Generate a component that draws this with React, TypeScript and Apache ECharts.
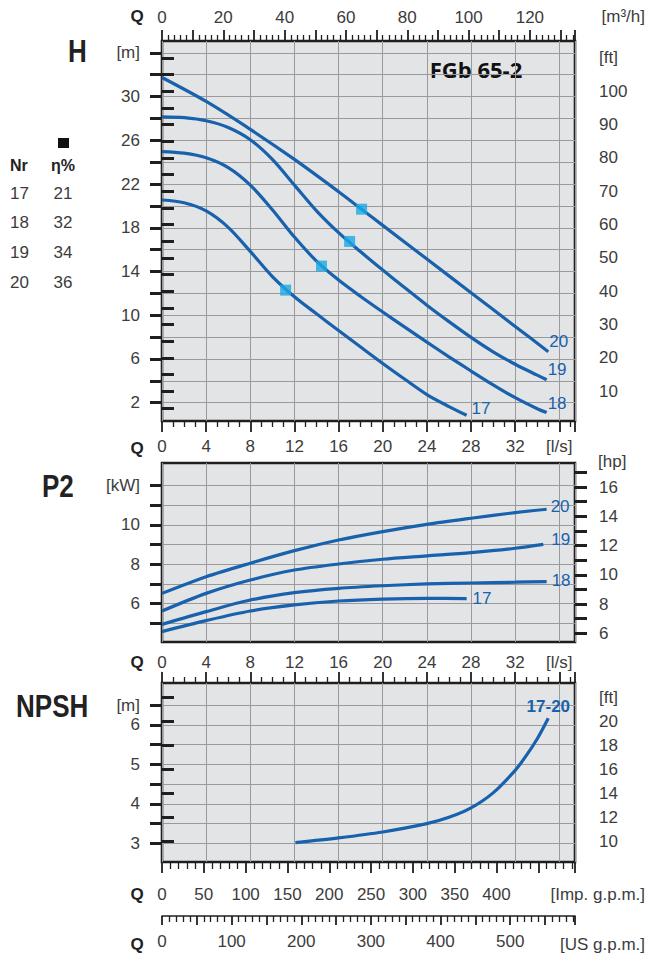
import React, { useEffect, useRef } from "react";
import * as echarts from "echarts";

// ---------------- data ----------------
// H [m] vs Q [l/s]
const qH20 = [0, 4, 8, 12, 16, 18.08, 20, 24, 28, 32, 35.0];
const h20 = [31.74, 29.55, 27.0, 24.25, 21.3, 19.7, 18.22, 15.14, 12.06, 8.98, 6.67];
const qH19 = [0, 2, 4, 6, 8, 10, 12, 14, 16, 18, 20, 22, 24, 26, 28, 30, 32, 34, 34.85];
const h19 = [28.15, 28.07, 27.79, 27.17, 26.05, 24.25, 21.9, 19.55, 17.55, 15.8, 14.13, 12.51, 10.92, 9.42, 7.98, 6.66, 5.52, 4.52, 4.1];
const qH18 = [0, 2, 4, 6, 8, 10, 12, 14, 16, 18, 20, 22, 24, 26, 28, 30, 32, 34, 34.85];
const h18 = [24.97, 24.82, 24.4, 23.5, 21.9, 19.65, 17.15, 14.95, 13.22, 11.72, 10.3, 8.91, 7.54, 6.2, 4.9, 3.64, 2.46, 1.45, 1.1];
const qH17 = [0, 2, 4, 6, 8, 10, 12, 14, 16, 18, 20, 22, 24, 26, 27.6];
const h17 = [20.54, 20.29, 19.54, 18.04, 15.84, 13.54, 11.69, 10.13, 8.61, 7.09, 5.59, 4.15, 2.75, 1.65, 0.85];

// best efficiency points (cyan squares)
const bepQ = [11.2, 14.45, 17.0, 18.08];
const bepH = [12.3, 14.5, 16.75, 19.7];

// P2 [kW] vs Q [l/s]
const qP = [0, 4, 8, 12, 16, 20, 24, 28, 32];
const p20 = [6.51, 7.36, 8.05, 8.69, 9.23, 9.66, 10.03, 10.34, 10.63];
const p20End = [34.85, 10.8];
const p19 = [5.61, 6.51, 7.19, 7.7, 8.01, 8.25, 8.42, 8.59, 8.81];
const p19End = [34.55, 9.01];
const p18 = [4.93, 5.58, 6.17, 6.55, 6.77, 6.9, 6.99, 7.04, 7.08];
const p18End = [34.85, 7.11];
const qP17 = [0, 4, 8, 12, 16, 20, 24, 27.6];
const p17 = [4.56, 5.12, 5.61, 5.92, 6.12, 6.22, 6.26, 6.24];

// NPSH [m] vs Q [l/s]
const qN = [12.09, 16, 20, 24, 26, 28, 30, 32, 33, 34, 35.0];
const npsh = [3.02, 3.14, 3.29, 3.5, 3.66, 3.9, 4.28, 4.85, 5.22, 5.65, 6.17];

// efficiency table
const tableNr = ["17", "18", "19", "20"];
const tableEta = ["21", "32", "34", "36"];

// curve names
const curveNames = ["17", "18", "19", "20"];

// axis extents & tick values
const X_MAX = 37.42; // l/s at right border
const H_MIN = 0.33, H_MAX = 35.08;
const P_MIN = 4.03, P_MAX = 13.16;
const N_MIN = 2.53, N_MAX = 7.06;
const M_TO_FT = 3.2808, KW_TO_HP = 1.341;
const LS_TO_M3H = 3.6, LS_TO_IMP = 13.198, LS_TO_US = 15.85;

const hLabelsM = [2, 6, 10, 14, 18, 22, 26, 30, 34];
const hLabelsFt = [10, 20, 30, 40, 50, 60, 70, 80, 90, 100, 110];
const pLabelsKw = [6, 8, 10, 12];
const pLabelsHp = [6, 8, 10, 12, 14, 16];
const nLabelsM = [3, 4, 5, 6, 6.5];
const nLabelsFt = [10, 12, 14, 16, 18, 20, 22];

// ---------------- helpers ----------------
const range = (a: number, b: number, s: number) => {
  const out: number[] = [];
  for (let v = a; v <= b + 1e-9; v += s) out.push(Math.round(v * 1000) / 1000);
  return out;
};
const pairs = (qs: number[], vs: number[]) => qs.map((q, i) => [q, vs[i]]);

const BLUE = "#1862ad";
const CYAN = "#1aa9e4";
const INK = "#1f1f1f";
const GRID_COLOR = "#9a9a9c";
const AXIS_FONT = {
  fontFamily: "'Liberation Sans', Arial, sans-serif",
  fontWeight: "normal" as any,
  fontSize: 17,
  color: "#3c3c3c",
};
const GL = 162, GW = 413;

const isMult = (v: number, m: number) => Math.abs(v / m - Math.round(v / m)) < 1e-6;

function xRuler(o: any) {
  return {
    type: "value",
    gridIndex: o.grid,
    position: o.pos,
    min: 0,
    max: o.max,
    interval: o.interval,
    axisLine: { show: !!o.line, onZero: false, lineStyle: { color: INK, width: 1.6 } },
    axisTick: {
      show: o.ticks !== false,
      length: o.majorLen ?? 11,
      lineStyle: { color: INK, width: 1.8 },
    },
    minorTick: {
      show: o.ticks !== false,
      splitNumber: o.minor,
      length: o.minorLen ?? 6,
      lineStyle: { color: INK, width: 1.3 },
    },
    axisLabel: {
      show: o.labels !== false,
      margin: o.margin,
      formatter: o.fmt,
      ...AXIS_FONT,
    },
    splitLine: { show: !!o.split, lineStyle: { color: GRID_COLOR, width: 1 } },
    minorSplitLine: { show: false },
  };
}

function yAxis(o: any) {
  const within = (arr: number[]) => arr.filter((v) => v >= o.min && v <= o.max);
  return {
    type: "value",
    gridIndex: o.grid,
    position: o.pos,
    min: o.min,
    max: o.max,
    axisLine: { show: false },
    axisTick: {
      show: true,
      length: 12,
      customValues: within(o.ticks),
      lineStyle: { color: INK, width: 3 },
    },
    axisLabel: {
      margin: o.margin,
      customValues: within(o.labels),
      formatter: o.fmt,
      ...AXIS_FONT,
    },
    splitLine: { show: !!o.split, lineStyle: { color: GRID_COLOR, width: 1 } },
  };
}

const lsFmt = (v: number) => {
  if (!isMult(v, 4)) return "";
  const r = Math.round(v);
  if (r === 36) return "[l/s]";
  return String(r);
};

const curveLabelFont = {
  color: BLUE,
  fontFamily: "'Liberation Sans', Arial, sans-serif",
  fontSize: 17,
};

function lineSeries(name: string, xi: number, yi: number, qs: number[], vs: number[], lbl: any) {
  return {
    type: "line",
    name,
    xAxisIndex: xi,
    yAxisIndex: yi,
    data: pairs(qs, vs),
    smooth: 0.3,
    showSymbol: false,
    lineStyle: { color: BLUE, width: 3.2 },
    endLabel: {
      show: true,
      formatter: lbl.text ?? name,
      ...curveLabelFont,
      fontWeight: lbl.bold ? "bold" : "normal",
      align: lbl.align ?? "left",
      verticalAlign: "bottom",
      distance: lbl.d,
      lineHeight: lbl.lh,
    },
  };
}

function buildOption() {
  const headFont = {
    fontFamily: "'Liberation Sans', Arial, sans-serif",
    fontWeight: "bold",
    fontSize: 31,
    fill: "#222",
  };
  const qFont = {
    fontFamily: "'Liberation Sans', Arial, sans-serif",
    fontWeight: "bold",
    fontSize: 17,
    fill: "#222",
  };
  const lightText = {
    fontFamily: AXIS_FONT.fontFamily,
    fontSize: 17,
    fill: "#3c3c3c",
  };
  const graphic: any[] = [
    { type: "text", x: 68, y: 51, scaleX: 0.84, style: { text: "H", ...headFont, verticalAlign: "middle" } },
    { type: "text", x: 42, y: 486, scaleX: 0.84, style: { text: "P2", ...headFont, verticalAlign: "middle" } },
    { type: "text", x: 16, y: 706, scaleX: 0.84, style: { text: "NPSH", ...headFont, verticalAlign: "middle" } },
    ...[16, 448, 662, 894, 944].map((y) => ({
      type: "text", x: 137, y, style: { text: "Q", ...qFont, align: "center", verticalAlign: "middle" },
    })),
    { type: "text", x: 645, y: 16, style: { text: "[m³/h]", ...lightText, align: "right", verticalAlign: "middle" } },
    { type: "text", x: 598, y: 461, style: { text: "[hp]", ...lightText, align: "left", verticalAlign: "middle" } },
    { type: "text", x: 645, y: 894, style: { text: "[Imp. g.p.m.]", ...lightText, align: "right", verticalAlign: "middle" } },
    { type: "text", x: 645, y: 944, style: { text: "[US g.p.m.]", ...lightText, align: "right", verticalAlign: "middle" } },
    {
      type: "text", x: 476, y: 69,
      style: { text: "FGb 65-2", fontFamily: "'Open Sans', 'Liberation Sans', sans-serif", fontWeight: "bold", fontSize: 22, fill: "#111", align: "center", verticalAlign: "middle" },
    },
    { type: "rect", shape: { x: 58, y: 138, width: 11, height: 10 }, style: { fill: "#111" } },
    { type: "text", x: 10, y: 165, style: { text: "Nr", ...qFont, fontSize: 16, align: "left", verticalAlign: "middle" } },
    { type: "text", x: 63, y: 165, style: { text: "η%", ...qFont, fontSize: 16, align: "center", verticalAlign: "middle" } },
    ...tableNr.map((t, i) => ({
      type: "text", x: 10, y: 193 + i * 29.8, style: { text: t, ...lightText, align: "left", verticalAlign: "middle" },
    })),
    ...tableEta.map((t, i) => ({
      type: "text", x: 63, y: 193 + i * 29.8, style: { text: t, ...lightText, align: "center", verticalAlign: "middle" },
    })),
  ];

  const gridBase = {
    show: true,
    left: GL,
    width: GW,
    borderColor: INK,
    borderWidth: 2.6,
    backgroundColor: "#e3e4e6",
    containLabel: false,
    outerBoundsMode: "none",
  };

  return {
    animation: false,
    backgroundColor: "#fff",
    grid: [
      { ...gridBase, top: 41, height: 380 },
      { ...gridBase, top: 463, height: 179 },
      { ...gridBase, top: 683, height: 179 },
      { left: GL, width: GW, top: 915, height: 1, show: false, outerBoundsMode: "none" },
    ],
    xAxis: [
      // 0: H panel bottom, l/s
      xRuler({ grid: 0, pos: "bottom", max: X_MAX, interval: 4, minor: 4, margin: 17, fmt: lsFmt, split: true }),
      // 1: H panel top, m3/h
      xRuler({
        grid: 0, pos: "top", max: X_MAX * LS_TO_M3H, interval: 10, minor: 5, margin: 15, majorLen: 11, minorLen: 6,
        fmt: (v: number) => (isMult(v, 20) && v <= 120 ? String(Math.round(v)) : ""),
      }),
      // 2: P2 panel, l/s (grid lines only)
      xRuler({ grid: 1, pos: "bottom", max: X_MAX, interval: 4, minor: 4, ticks: false, labels: false, split: true }),
      // 3: NPSH panel top, l/s
      xRuler({ grid: 2, pos: "top", max: X_MAX, interval: 4, minor: 4, margin: 12, fmt: lsFmt, split: true }),
      // 4: NPSH panel bottom, Imp gpm
      xRuler({
        grid: 2, pos: "bottom", max: X_MAX * LS_TO_IMP, interval: 50, minor: 5, margin: 24, majorLen: 11, minorLen: 7,
        fmt: (v: number) => (isMult(v, 50) && v <= 400 ? String(Math.round(v)) : ""),
      }),
      // 5: US gpm ruler
      xRuler({
        grid: 3, pos: "bottom", max: X_MAX * LS_TO_US, interval: 50, minor: 5, margin: 17, majorLen: 9, minorLen: 6, line: true,
        fmt: (v: number) => (isMult(v, 100) && v <= 500 ? String(Math.round(v)) : ""),
      }),
    ],
    yAxis: [
      yAxis({
        grid: 0, pos: "left", min: H_MIN, max: H_MAX, ticks: range(2, 34, 2), labels: hLabelsM, margin: 22, split: true,
        fmt: (v: number) => (v === 34 ? "[m]" : String(v)),
      }),
      yAxis({
        grid: 0, pos: "right", min: H_MIN * M_TO_FT, max: H_MAX * M_TO_FT, ticks: range(5, 110, 5), labels: hLabelsFt, margin: 24,
        fmt: (v: number) => (v === 110 ? "[ft]" : String(v)),
      }),
      yAxis({
        grid: 1, pos: "left", min: P_MIN, max: P_MAX, ticks: range(5, 12, 1), labels: pLabelsKw, margin: 22, split: true,
        fmt: (v: number) => (v === 12 ? "[kW]" : String(v)),
      }),
      yAxis({
        grid: 1, pos: "right", min: P_MIN * KW_TO_HP, max: P_MAX * KW_TO_HP, ticks: range(6, 17, 1), labels: pLabelsHp, margin: 24,
        fmt: (v: number) => String(v),
      }),
      yAxis({
        grid: 2, pos: "left", min: N_MIN, max: N_MAX, ticks: range(3, 6.5, 0.5), labels: nLabelsM, margin: 22, split: true,
        fmt: (v: number) => (v === 6.5 ? "[m]" : String(v)),
      }),
      yAxis({
        grid: 2, pos: "right", min: N_MIN * M_TO_FT, max: N_MAX * M_TO_FT, ticks: range(8, 22, 2), labels: nLabelsFt, margin: 24,
        fmt: (v: number) => (v === 22 ? "[ft]" : String(v)),
      }),
      { type: "value", gridIndex: 3, show: false, min: 0, max: 1 },
    ],
    graphic,
    series: [
      lineSeries(curveNames[3], 0, 0, qH20, h20, { d: 1, lh: 21 }),
      lineSeries(curveNames[2], 0, 0, qH19, h19, { d: 1, lh: 20 }),
      lineSeries(curveNames[1], 0, 0, qH18, h18, { d: 1, lh: 18 }),
      lineSeries(curveNames[0], 0, 0, qH17, h17, { d: 5, lh: 13 }),
      {
        type: "scatter",
        xAxisIndex: 0,
        yAxisIndex: 0,
        data: pairs(bepQ, bepH),
        symbol: "rect",
        symbolSize: 11,
        itemStyle: { color: CYAN },
        z: 5,
      },
      lineSeries(curveNames[3], 2, 2, [...qP, p20End[0]], [...p20, p20End[1]], { d: 4, lh: 5 }),
      lineSeries(curveNames[2], 2, 2, [...qP, p19End[0]], [...p19, p19End[1]], { d: 8, lh: 9 }),
      lineSeries(curveNames[1], 2, 2, [...qP, p18End[0]], [...p18, p18End[1]], { d: 5, lh: 2 }),
      lineSeries(curveNames[0], 2, 2, qP17, p17, { d: 6, lh: 1 }),
      lineSeries("NPSH", 3, 4, qN, npsh, { d: 0, lh: 24, text: "17-20", bold: true, align: "center" }),
    ],
  };
}

export default function App() {
  const ref = useRef<HTMLDivElement>(null);
  useEffect(() => {
    document.body.style.margin = "0";
    const chart = echarts.init(ref.current as HTMLDivElement, null, { renderer: "svg", width: 650, height: 958 });
    chart.setOption(buildOption() as any);
    return () => chart.dispose();
  }, []);
  return (
    <div
      ref={ref}
      style={{ position: "absolute", left: 0, top: 0, width: 650, height: 958, background: "#fff" }}
    />
  );
}
